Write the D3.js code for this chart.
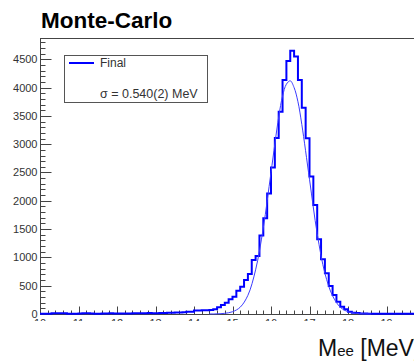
<!DOCTYPE html>
<html>
<head>
<meta charset="utf-8">
<script src="https://cdn.jsdelivr.net/npm/d3@7"></script>
<style>
  body { margin: 0; background: white; }
  svg { display: block; font-family: "Liberation Sans", Arial, sans-serif; }
</style>
</head>
<body>
<svg></svg>
<script>
// histogram bins: 10.0 .. 20.0 MeV, width 0.1
const binStart = 10
const binWidth = 0.1
const counts = [
    4, 6, 3, 12, 14, 15, 12, 5, 4, 6,
    10, 12, 14, 8, 5, 6, 7, 9, 12, 10,
    8, 9, 11, 10, 14, 15, 12, 13, 16, 14,
    15, 17, 16, 20, 22, 25, 28, 32, 38, 40,
    60, 62, 66, 68, 70, 83, 118, 159, 200, 260,
    306, 412, 482, 600, 707, 954, 1025, 1385, 1690, 2130,
    2590, 3110, 3575, 4134, 4470, 4650, 4550, 4134, 3645, 3104,
    2430, 1926, 1320, 966, 719, 495, 336, 217, 129, 83,
    41, 23, 18, 10, 8, 6, 5, 6, 4, 5,
    4, 5, 3, 4, 6, 4, 3, 5, 4, 3
]

// fit curve
const fitX = [14.4, 14.6, 14.8, 15.0, 15.2, 15.4, 15.6, 15.8, 16.0, 16.2, 16.3, 16.4, 16.5, 16.6, 16.7, 16.8, 17.0, 17.2, 17.4, 17.6, 17.8, 18.0, 18.2, 18.4, 18.6]
const fitY = [1, 3, 12, 40, 120, 330, 780, 1520, 2500, 3480, 3850, 4060, 4120, 4000, 3750, 3350, 2380, 1420, 720, 320, 120, 40, 12, 3, 1]

const xTicks = [10, 11, 12, 13, 14, 15, 16, 17, 18, 19, 20]
const yTicks = [0, 500, 1000, 1500, 2000, 2500, 3000, 3500, 4000, 4500]

const width = 414
const height = 362
const margin = { top: 38, left: 40, bottom: 48 }

const svg = d3.select('svg')
    .attr('width', width)
    .attr('height', height)

const x = d3.scaleLinear()
    .domain([10, 20])
    .range([margin.left, margin.left + 385])

const y = d3.scaleLinear()
    .domain([0, 4876])
    .range([height - margin.bottom, margin.top])

const axisColor = '#444'

// title
svg.append('text')
    .attr('x', 41)
    .attr('y', 28)
    .style('font-size', '22.5px')
    .style('font-weight', 'bold')
    .text('Monte-Carlo')

// frame
svg.append('line')
    .attr('x1', x(10)).attr('x2', width)
    .attr('y1', y.range()[1] + 0.5).attr('y2', y.range()[1] + 0.5)
    .attr('stroke', axisColor)

// y axis
const yAxis = svg.append('g')
    .attr('transform', 'translate(' + (x(10) + 0.5) + ',0)')
yAxis.append('line')
    .attr('y1', y(0)).attr('y2', y.range()[1])
    .attr('stroke', axisColor)
yAxis.selectAll('.minor')
    .data(d3.range(0, 4877, 100))
    .enter()
    .append('line')
    .attr('x1', 0)
    .attr('x2', d => d % 500 === 0 ? 11 : 5)
    .attr('y1', d => Math.round(y(d)) + 0.5)
    .attr('y2', d => Math.round(y(d)) + 0.5)
    .attr('stroke', axisColor)
yAxis.selectAll('.ylab')
    .data(yTicks)
    .enter()
    .append('text')
    .attr('x', -3)
    .attr('y', d => y(d))
    .attr('dy', '0.36em')
    .attr('text-anchor', 'end')
    .style('font-size', '11px')
    .style('fill', '#333')
    .text(d => d)

// x axis, labels cut just below the top as in the original
svg.append('clipPath')
    .attr('id', 'labclip')
    .append('rect')
    .attr('x', 0).attr('y', 0)
    .attr('width', width).attr('height', 321)

const xAxis = svg.append('g')
    .attr('transform', 'translate(0,' + (y(0) + 0.5) + ')')
xAxis.append('line')
    .attr('x1', x(10)).attr('x2', width)
    .attr('stroke', axisColor)
xAxis.selectAll('.tick')
    .data(d3.range(0, 51).map(i => 10 + i * 0.2))
    .enter()
    .append('line')
    .attr('x1', d => Math.round(x(d)) + 0.5)
    .attr('x2', d => Math.round(x(d)) + 0.5)
    .attr('y1', 0)
    .attr('y2', (d, i) => i % 5 === 0 ? -8 : -4)
    .attr('stroke', axisColor)
svg.append('g')
    .attr('clip-path', 'url(#labclip)')
    .selectAll('text')
    .data(xTicks)
    .enter()
    .append('text')
    .attr('x', d => x(d))
    .attr('y', y(0) + 13)
    .attr('text-anchor', 'middle')
    .style('font-size', '11px')
    .style('fill', '#333')
    .text(d => d)

// histogram outline
const edges = counts.map((c, i) => ({ x: binStart + i * binWidth, v: c }))
edges.push({ x: binStart + counts.length * binWidth, v: counts[counts.length - 1] })

svg.append('path')
    .datum(edges)
    .attr('fill', 'none')
    .attr('stroke', '#0000ff')
    .attr('stroke-width', 2)
    .attr('d', d3.line()
        .x(d => x(d.x))
        .y(d => y(d.v))
        .curve(d3.curveStepAfter))

// fit
svg.append('path')
    .datum(fitX.map((d, i) => [d, fitY[i]]))
    .attr('fill', 'none')
    .attr('stroke', '#3b3bff')
    .attr('stroke-width', 1)
    .attr('d', d3.line()
        .x(d => x(d[0]))
        .y(d => y(d[1]))
        .curve(d3.curveCatmullRom))

// legend
const legend = svg.append('g')
legend.append('rect')
    .attr('x', 64.5).attr('y', 55.5)
    .attr('width', 143).attr('height', 47)
    .attr('fill', 'white')
    .attr('stroke', '#555')
legend.append('line')
    .attr('x1', 69).attr('x2', 94)
    .attr('y1', 63).attr('y2', 63)
    .attr('stroke', '#0000ff')
    .attr('stroke-width', 2)
legend.append('text')
    .attr('x', 100).attr('y', 67)
    .style('font-size', '12px')
    .style('fill', '#333')
    .text('Final')
legend.append('text')
    .attr('x', 100).attr('y', 98)
    .style('font-size', '12.5px')
    .style('fill', '#333')
    .text('σ = 0.540(2) MeV')

// axis title
const xt = svg.append('text')
    .attr('x', 318)
    .attr('y', 356)
    .style('font-size', '23px')
    .style('fill', '#111')
xt.append('tspan').text('M')
xt.append('tspan').style('font-size', '15px').text('ee')
xt.append('tspan').text(' [MeV]')
</script>
</body>
</html>
